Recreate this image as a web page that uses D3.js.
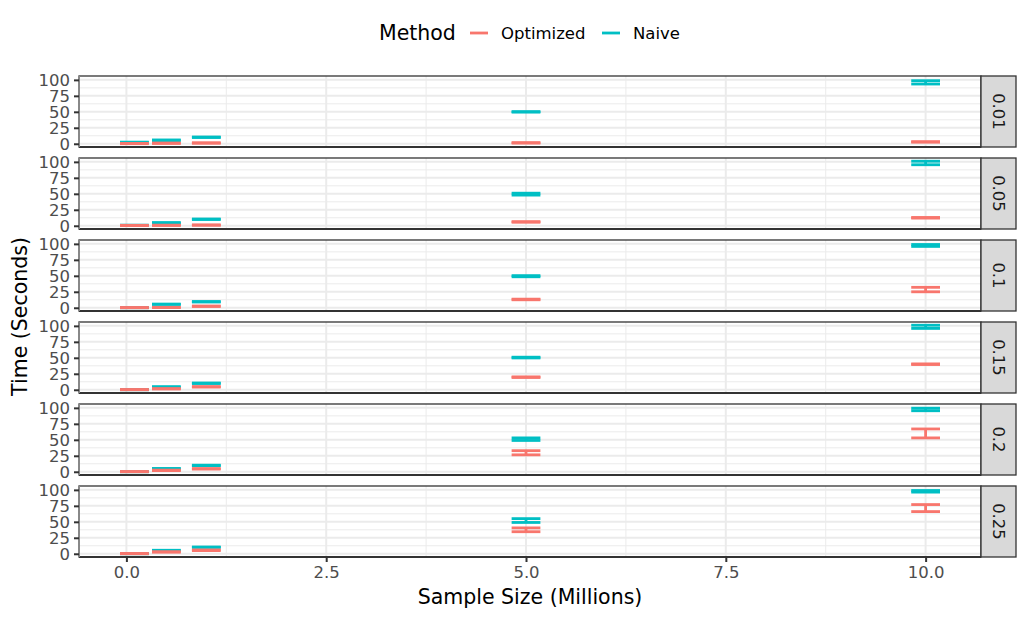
<!DOCTYPE html>
<html><head><meta charset="utf-8">
<script src="https://cdn.jsdelivr.net/npm/d3@7"></script>
<style>body{margin:0;background:#fff;} text{font-family:"DejaVu Sans",sans-serif;}</style>
</head><body><svg id="c" width="1026" height="619"></svg>
<script>
// ---- data ----
const fractions = ["0.01","0.05","0.1","0.15","0.2","0.25"];
const sizes = [0.1, 0.5, 1, 5, 10];
const methods = ["Optimized","Naive"];
const colors = ["#F8766D","#00BFC4"];
// rows = fraction panels, columns = sample sizes
const optLow = [
  [0.1, 0.5, 0.8, 1.0, 2.5],
  [0.3, 0.5, 0.8, 5.5, 12.0],
  [0.0, 0.3, 2.0, 12.5, 25],
  [0.0, 1.2, 4.2, 19.2, 39.5],
  [0.0, 1.8, 4.2, 26.5, 53],
  [0.0, 2.5, 5.0, 34.5, 66]
];
const optHigh = [
  [0.5, 1.2, 1.6, 1.8, 3.3],
  [0.7, 1.0, 1.4, 6.5, 13.0],
  [0.4, 0.7, 2.8, 13.5, 32],
  [0.4, 1.8, 5.0, 20.2, 40.5],
  [0.4, 2.6, 5.0, 33, 67],
  [0.5, 3.2, 6.0, 40.5, 77]
];
const naiveLow = [
  [2.0, 5.0, 9.8, 49.5, 93.5],
  [0.5, 4.2, 9.8, 48, 95.5],
  [0.0, 5.2, 9.0, 48.5, 96],
  [0.0, 4.2, 9.8, 49.8, 96],
  [0.0, 4.5, 9.5, 49, 95.5],
  [0.0, 4.8, 10.0, 49, 96.5]
];
const naiveHigh = [
  [2.6, 6.0, 10.6, 50.3, 98.7],
  [1.0, 5.0, 10.6, 51, 101],
  [0.4, 5.8, 9.8, 50.3, 99],
  [0.4, 4.8, 10.6, 51, 101],
  [0.4, 5.2, 10.3, 53, 99.5],
  [0.4, 5.5, 10.6, 55, 99]
];
const xTicks = [0, 2.5, 5, 7.5, 10];
const xTickLabels = ["0.0","2.5","5.0","7.5","10.0"];
const yTicks = [0, 25, 50, 75, 100];
const yTickLabels = ["0","25","50","75","100"];
const xTitle = "Sample Size (Millions)";
const yTitle = "Time (Seconds)";
const legendTitle = "Method";

// ---- layout ----
const svg = d3.select("#c");
const panelLeft = 79, panelRight = 981, panelTop = 76, panelH = 71, panelGap = 11, stripW = 35;
const grid = "#EBEBEB", dark = "#333333";

const rows = [];
// Naive drawn first, Optimized on top
fractions.forEach((f, i) => sizes.forEach((s, j) => rows.push({i, size: s, m: 1, lo: naiveLow[i][j], hi: naiveHigh[i][j]})));
fractions.forEach((f, i) => sizes.forEach((s, j) => rows.push({i, size: s, m: 0, lo: optLow[i][j], hi: optHigh[i][j]})));

const sorted = [...sizes].sort(d3.ascending);
const res = d3.min(d3.pairs(sorted, (a, b) => b - a));
const barW = 0.9 * res;
const xMin = d3.min(sizes) - barW / 2, xMax = d3.max(sizes) + barW / 2;
const xPad = (xMax - xMin) * 0.05;
const x = d3.scaleLinear().domain([xMin - xPad, xMax + xPad]).range([panelLeft, panelRight]);
const allY = rows.flatMap(r => [r.lo, r.hi]);
const yMin = d3.min(allY), yMax = d3.max(allY), yPad = (yMax - yMin) * 0.05;
const y = d3.scaleLinear().domain([yMin - yPad, yMax + yPad]).range([panelH, 0]);

const yMinor = d3.pairs(yTicks, (a, b) => (a + b) / 2);
const xMinor = d3.pairs(xTicks, (a, b) => (a + b) / 2);

fractions.forEach((f, i) => {
  const top = panelTop + i * (panelH + panelGap);
  const g = svg.append("g").attr("transform", `translate(0,${top})`);
  g.append("rect").attr("x", panelLeft).attr("y", 0).attr("width", panelRight - panelLeft).attr("height", panelH).attr("fill", "#fff");
  // minor grid
  g.selectAll(".ymn").data(yMinor).join("line").attr("x1", panelLeft).attr("x2", panelRight)
    .attr("y1", d => y(d)).attr("y2", d => y(d)).attr("stroke", grid).attr("stroke-width", 1);
  g.selectAll(".xmn").data(xMinor).join("line").attr("y1", 0).attr("y2", panelH)
    .attr("x1", d => x(d)).attr("x2", d => x(d)).attr("stroke", grid).attr("stroke-width", 1);
  // major grid
  g.selectAll(".ymj").data(yTicks).join("line").attr("x1", panelLeft).attr("x2", panelRight)
    .attr("y1", d => y(d)).attr("y2", d => y(d)).attr("stroke", grid).attr("stroke-width", 2);
  g.selectAll(".xmj").data(xTicks).join("line").attr("y1", 0).attr("y2", panelH)
    .attr("x1", d => x(d)).attr("x2", d => x(d)).attr("stroke", grid).attr("stroke-width", 2);

  // error bars
  const pr = rows.filter(r => r.i === i);
  const eb = g.selectAll(".eb").data(pr).join("g").attr("stroke", d => colors[d.m]).attr("stroke-width", 2.8).attr("fill", "none");
  eb.append("line").attr("x1", d => x(d.size - barW / 2)).attr("x2", d => x(d.size + barW / 2)).attr("y1", d => y(d.hi)).attr("y2", d => y(d.hi));
  eb.append("line").attr("x1", d => x(d.size - barW / 2)).attr("x2", d => x(d.size + barW / 2)).attr("y1", d => y(d.lo)).attr("y2", d => y(d.lo));
  eb.append("line").attr("x1", d => x(d.size)).attr("x2", d => x(d.size)).attr("y1", d => y(d.lo)).attr("y2", d => y(d.hi));

  // border
  g.append("rect").attr("x", panelLeft).attr("y", 0).attr("width", panelRight - panelLeft).attr("height", panelH)
    .attr("fill", "none").attr("stroke", dark).attr("stroke-width", 1.3);
  g.append("line").attr("x1", panelLeft).attr("x2", panelRight).attr("y1", panelH).attr("y2", panelH).attr("stroke", dark).attr("stroke-width", 2.2);
  g.append("line").attr("x1", panelLeft).attr("x2", panelLeft).attr("y1", 0).attr("y2", panelH).attr("stroke", "#888").attr("stroke-width", 2);

  // y axis
  const ya = g.append("g").attr("transform", `translate(${panelLeft},0)`)
    .call(d3.axisLeft(y).tickValues(yTicks).tickFormat((d, k) => yTickLabels[k]).tickSize(5).tickPadding(4));
  ya.select(".domain").remove();
  ya.selectAll("line").attr("stroke", dark).attr("stroke-width", 2);
  ya.selectAll("text").attr("fill", "#4D4D4D").style("font-size", "16.5px").style("font-family", '"DejaVu Sans", sans-serif');

  // strip
  g.append("rect").attr("x", panelRight).attr("y", 0).attr("width", stripW).attr("height", panelH)
    .attr("fill", "#D9D9D9").attr("stroke", dark).attr("stroke-width", 1.3);
  g.append("text").attr("transform", `translate(${panelRight + stripW / 2},${panelH / 2}) rotate(90)`)
    .attr("text-anchor", "middle").attr("dy", "0.35em").attr("fill", "#1A1A1A").style("font-size", "16.5px").text(f);

  if (i === fractions.length - 1) {
    const xa = g.append("g").attr("transform", `translate(0,${panelH})`)
      .call(d3.axisBottom(x).tickValues(xTicks).tickFormat((d, k) => xTickLabels[k]).tickSize(5).tickPadding(4));
    xa.select(".domain").remove();
    xa.selectAll("line").attr("stroke", dark).attr("stroke-width", 2);
    xa.selectAll("text").attr("fill", "#4D4D4D").style("font-size", "16.5px").style("font-family", '"DejaVu Sans", sans-serif');
  }
});

const bottom = panelTop + fractions.length * panelH + (fractions.length - 1) * panelGap;
svg.append("text").attr("x", (panelLeft + panelRight) / 2).attr("y", bottom + 47).attr("text-anchor", "middle")
  .attr("fill", "#000").style("font-size", "20.5px").text(xTitle);
svg.append("text").attr("transform", `translate(27,${(panelTop + bottom) / 2}) rotate(-90)`).attr("text-anchor", "middle")
  .attr("fill", "#000").style("font-size", "20.5px").text(yTitle);

// legend
const lg = svg.append("g");
lg.append("text").attr("x", 379).attr("y", 40).attr("fill", "#000").style("font-size", "20.5px").text(legendTitle);
const keyX = [470, 602];
methods.forEach((m, k) => {
  lg.append("line").attr("x1", keyX[k]).attr("x2", keyX[k] + 18).attr("y1", 33).attr("y2", 33)
    .attr("stroke", colors[k]).attr("stroke-width", 2.8);
  lg.append("text").attr("x", keyX[k] + 31).attr("y", 39).attr("fill", "#000").style("font-size", "16.5px").text(m);
});
</script></body></html>
